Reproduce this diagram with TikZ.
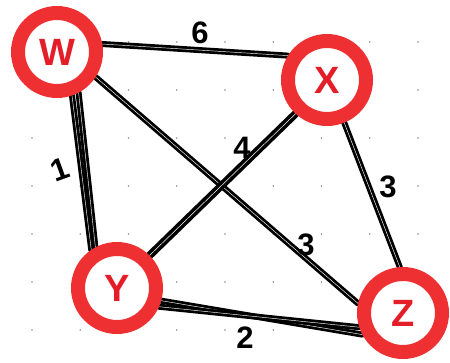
\documentclass[tikz,border=0pt]{standalone}
\usepackage{fontspec}
\setmainfont{Liberation Sans}
\usetikzlibrary{backgrounds}
\definecolor{ringred}{RGB}{238,48,50}
\definecolor{lettred}{RGB}{228,30,40}
\begin{document}
\begin{tikzpicture}[x=1pt,y=-1pt,
  ring/.style={circle, draw=ringred, line width=14pt, fill=white, minimum size=78pt, inner sep=0pt, text=lettred, font=\fontsize{38}{38}\selectfont\bfseries},
  edgeline/.style={line width=2.8pt, draw=black, double=white, double distance=0.45pt, line cap=round},
  heavyedge/.style={line width=3.6pt, draw=black, double=white, double distance=0.5pt, line cap=round},
  weight/.style={font=\fontsize{31}{31}\selectfont\bfseries, inner sep=0pt, text=black},
  griddot/.style={fill=black!45}]
\useasboundingbox (0,0) rectangle (450,362);
\node[ring] (W) at (57,52) {W};
\node[ring] (X) at (327,80) {X};
\node[ring] (Y) at (117,288) {Y};
\node[ring] (Z) at (403,313) {Z};
\begin{pgfonlayer}{background}
\foreach \i in {0,...,8}{
  \foreach \j in {0,...,6}{
    \fill[griddot] (32+48.25*\i, 42+48*\j) circle (0.9pt);
  }
}
\draw[edgeline] (W.10) -- (X.148);
\draw[edgeline] (W.-62) -- (Y.118);
\draw[edgeline] (W.-71) -- (Y.124);
\draw[edgeline] (W.-33) -- (Z.168);
\draw[heavyedge] (X.-133) -- (Y.45);
\draw[edgeline] (X.-68) -- (Z.94);
\draw[edgeline] (Y.-16) -- (Z.-152);
\draw[edgeline] (Y.-24) -- (Z.-162);
\end{pgfonlayer}
\node[weight] (w6) at (200,33) {6};
\node[weight, rotate=20] (w1) at (60,170) {1};
\node[weight] (w4) at (242,148) {4};
\node[weight] (w3a) at (306,245) {3};
\node[weight] (w3b) at (388,187) {3};
\node[weight] (w2) at (245,338) {2};
\end{tikzpicture}
\end{document}
